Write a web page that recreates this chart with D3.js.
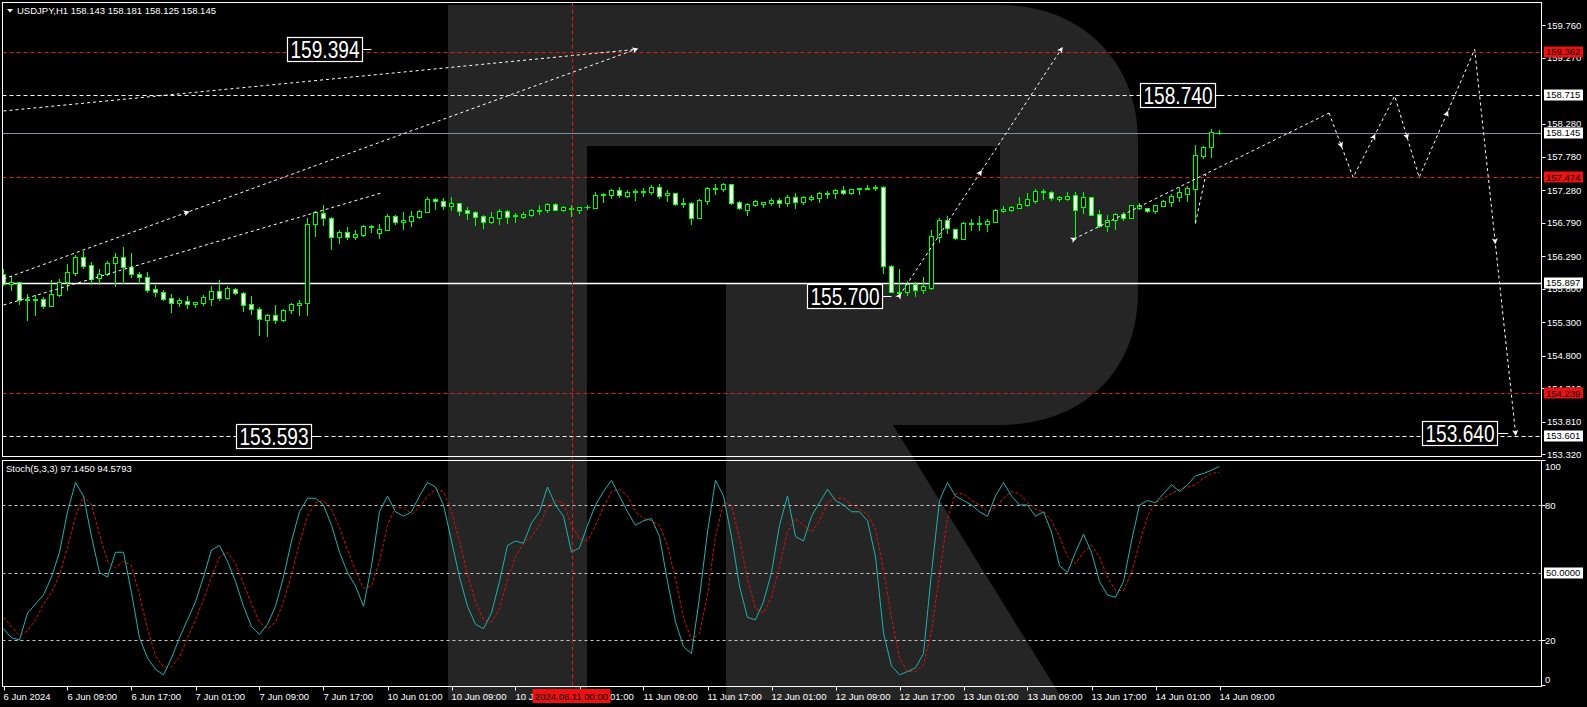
<!DOCTYPE html>
<html><head><meta charset="utf-8">
<script src="https://cdn.jsdelivr.net/npm/d3@7"></script>
<style>html,body{margin:0;padding:0;background:#000;overflow:hidden}svg{display:block}text{font-family:"Liberation Sans",Arial,sans-serif}</style>
</head><body><div id="chart"></div>
<script>
// ---------------- DATA ----------------
const symbol = "USDJPY,H1";
const lastOHLC = ["158.143", "158.181", "158.125", "158.145"];
const stochTitle = "Stoch(5,3,3)";
const stochLast = ["97.1450", "94.5793"];

const opens = [156.020,155.870,155.900,155.630,155.630,155.650,155.550,155.715,155.900,156.045,156.275,156.155,155.960,156.020,156.185,156.275,156.125,156.020,155.975,155.800,155.750,155.660,155.595,155.615,155.570,155.595,155.655,155.770,155.670,155.800,155.740,155.570,155.500,155.340,155.410,155.340,155.480,155.565,155.585,
156.770,156.935,156.860,156.585,156.650,156.585,156.615,156.730,156.645,156.690,156.890,156.810,156.820,156.885,156.960,157.145,157.115,157.050,157.085,156.980,156.950,156.890,156.805,156.870,156.970,156.895,156.880,156.915,156.975,156.990,157.070,156.990,157.000,156.990,157.025,157.020,157.205,
157.205,157.280,157.200,157.250,157.250,157.255,157.330,157.205,157.235,157.080,157.090,156.870,157.125,157.295,157.300,157.370,157.100,156.985,157.065,157.080,157.090,157.135,157.090,157.180,157.110,157.150,157.170,157.220,157.235,157.285,157.245,157.295,157.295,157.310,157.325,156.140,155.745,155.760,
155.875,155.790,155.820,156.585,156.830,156.695,156.555,156.775,156.775,156.780,156.810,156.975,156.990,157.020,157.065,157.125,157.250,157.255,157.155,157.155,157.205,157.035,157.175,156.920,156.750,156.830,156.920,156.870,157.020,157.010,156.975,157.050,157.110,157.185,157.230,157.305,157.800,157.930,158.143];
const highs = [156.095,155.995,155.910,155.725,155.710,155.685,155.935,155.945,156.175,156.310,156.370,156.210,156.100,156.220,156.340,156.430,156.340,156.060,156.060,155.860,155.785,155.725,155.660,155.695,155.600,155.715,155.845,155.935,155.845,155.815,155.755,155.695,155.535,155.430,155.560,155.495,155.595,155.635,156.860,
156.970,157.060,156.885,156.685,156.725,156.685,156.760,156.760,156.775,156.925,156.905,156.955,156.970,156.985,157.180,157.160,157.165,157.180,157.095,157.035,156.970,156.910,156.955,157.000,156.985,156.940,156.955,156.995,157.060,157.085,157.090,157.045,157.055,157.030,157.060,157.255,157.235,
157.295,157.325,157.280,157.295,157.310,157.360,157.375,157.280,157.240,157.160,157.105,157.145,157.330,157.375,157.390,157.375,157.115,157.090,157.140,157.105,157.160,157.170,157.210,157.240,157.190,157.210,157.255,157.270,157.300,157.345,157.305,157.315,157.360,157.360,157.340,156.155,156.100,155.925,
155.910,155.980,156.685,156.865,156.895,156.705,156.805,156.855,156.895,156.855,157.000,157.045,157.050,157.180,157.240,157.300,157.300,157.270,157.200,157.255,157.255,157.255,157.175,156.985,156.905,156.940,156.960,157.055,157.090,157.015,157.065,157.135,157.220,157.330,157.350,157.960,157.945,158.200,158.181];
const lows = [155.860,155.785,155.575,155.335,155.410,155.520,155.545,155.700,155.785,156.010,156.110,155.880,155.875,156.005,155.850,155.895,155.975,155.895,155.760,155.700,155.635,155.460,155.550,155.520,155.535,155.560,155.560,155.635,155.655,155.730,155.475,155.425,155.110,155.095,155.290,155.320,155.445,155.410,155.410,
156.595,156.760,156.400,156.495,156.550,156.550,156.600,156.655,156.565,156.685,156.775,156.700,156.750,156.870,156.950,157.000,157.000,156.985,156.910,156.850,156.760,156.715,156.785,156.775,156.790,156.805,156.865,156.900,156.925,156.955,156.985,156.970,156.895,156.945,157.000,157.020,157.105,
157.170,157.185,157.185,157.135,157.200,157.225,157.170,157.125,157.065,157.030,156.780,156.870,157.080,157.225,157.275,157.080,157.000,156.910,157.050,157.030,157.055,157.030,157.045,157.015,157.080,157.135,157.105,157.170,157.170,157.225,157.225,157.230,157.295,157.285,156.040,155.760,155.695,155.710,
155.700,155.745,155.805,156.510,156.645,156.555,156.555,156.685,156.685,156.675,156.810,156.955,156.975,157.020,157.050,157.095,157.150,157.140,157.115,157.135,156.545,156.945,156.905,156.735,156.675,156.705,156.835,156.870,157.000,156.960,156.940,157.050,157.045,157.125,157.125,156.790,157.770,157.780,158.125];
const closes = [155.870,155.900,155.635,155.645,155.650,155.550,155.720,155.900,156.050,156.275,156.150,155.955,156.020,156.190,156.275,156.125,156.020,155.975,155.790,155.750,155.650,155.595,155.635,155.570,155.600,155.680,155.770,155.670,155.815,155.735,155.565,155.495,155.345,155.410,155.340,155.485,155.575,155.585,156.770,
156.950,156.860,156.585,156.650,156.585,156.625,156.740,156.740,156.700,156.895,156.810,156.830,156.895,156.970,157.145,157.115,157.050,157.090,156.975,156.945,156.885,156.810,156.875,156.970,156.885,156.905,156.925,156.985,156.985,157.070,156.990,157.030,157.010,157.030,157.035,157.210,157.220,
157.280,157.205,157.250,157.265,157.265,157.330,157.200,157.240,157.080,157.095,156.870,157.130,157.315,157.310,157.375,157.095,157.010,157.075,157.120,157.105,157.135,157.090,157.180,157.110,157.180,157.180,157.240,157.235,157.285,157.240,157.300,157.315,157.315,157.330,156.140,155.760,155.750,155.870,
155.780,155.845,156.590,156.830,156.710,156.560,156.785,156.785,156.785,156.820,156.985,157.000,157.030,157.070,157.150,157.270,157.270,157.170,157.180,157.195,156.980,157.175,156.915,156.750,156.835,156.925,156.870,157.055,157.060,156.975,157.055,157.120,157.195,157.255,157.315,157.805,157.930,158.150,158.145];

const stochMain = [25,21,20,32,36,40,48,59,77,90,84,66,50,48,59,59,41,21,12,7,4.5,12,21,29,37,48,60,62,55,46,35,26,22.5,27,35,48,64,77,83,83,80,71,59,50,44,35,53,77,84,77,75,77,84,90,88,80,64,48,35,27,25,32,46,62,64,63,72,77,88,80,75,59,61,71,80,86,91,84,77,71,73,74,66,46,28,17,14,39,68,91,84,66,44,30,29,37,50,71,84,66,64,75,81,87,82,80,77,77,73,57,23,8.5,4.5,6,7.6,14,50,82,90,84,82,80,77,75,84,90,84,80,80,75,77,68,53,50,59,67,59,46,40,39,46,64,80,82,81,85,89,86,89,93,94,95.5,97.145];
const stochSignal = [30,26,22,24,29,36,41,49,61,75,84,80,67,55,52,55,53,40,25,13,8,8,12.5,21,29,38,48,57,59,54,45,36,28,25,28,37,49,63,75,81,82,78,70,60,51,43,44,55,71,79,79,76,79,84,87,86,77,64,49,37,29,28,34,47,57,63,66,71,79,82,81,71,65,64,71,79,86,87,84,77,74,73,71,62,47,30,20,23,40,66,81,80,65,47,34,32,39,53,68,74,71,68,73,81,83,83,80,78,76,69,51,30,12,6,6,9,24,49,74,85,85,82,80,77,79,83,86,85,81,78,77,73,66,57,54,59,62,57,48,42,42,50,63,75,81,83,85,87,88,89,92,94,94.5793];

const priceTicks = [159.760,159.270,158.280,157.780,157.280,156.790,156.290,155.800,155.300,154.800,154.310,153.810,153.320];
const stochTicks = [100, 80, 20, 0];
const stochLevels = [80, 50, 20];
const timeLabels = ["6 Jun 2024","6 Jun 09:00","6 Jun 17:00","7 Jun 01:00","7 Jun 09:00","7 Jun 17:00","10 Jun 01:00","10 Jun 09:00","10 Jun 17:00","11 Jun 01:00","11 Jun 09:00","11 Jun 17:00","12 Jun 01:00","12 Jun 09:00","12 Jun 17:00","13 Jun 01:00","13 Jun 09:00","13 Jun 17:00","14 Jun 01:00","14 Jun 09:00"];
const timeLabelBars = [0,8,16,24,32,40,48,56,64,72,80,88,96,104,112,120,128,136,144,152];
const markerBar = 71; const markerLabel = "2024.06.11 00:00";

const redLevels = [159.362, 157.474, 154.239];
const whiteDashLevels = [158.715, 153.601];
const solidLevels = [155.897];
const bidLevel = 158.145;
const axisBoxes = [["159.362","red"],["158.715","white"],["158.145","white"],["157.474","red"],["155.897","white"],["154.239","red"],["153.601","white"]];

// annotation lines: [bar, price] pairs
const trendLines = [
  [[0,158.47],[79.0,159.394]],
  [[0,155.95],[79.0,159.394]],
  [[0,155.56],[47.1,157.236]],
  [[112,155.700],[132.2,159.394]],
  [[133.8,156.55],[165.7,158.44]],
  [[149,156.79],[150.3,157.52]]
];
const forecast = [[165.7,158.44],[168.7,157.474],[173.9,158.695],[176.96,157.474],[183.9,159.394],[189.0,153.640]];
const arrowsOnLines = [[1,0.29],[1,1],[3,0],[3,0.5],[3,1],[4,0]];
const arrowsOnForecast = [[0,0.5],[1,0.5],[2,0.5],[3,0.5],[4,0.5],[4,1]];
// big value labels: [text, right-edge bar, connector-end bar, price]
const bigLabels = [["159.394",44.8,46.0,159.394],["158.740",151.4,152.4,158.715],["155.700",109.8,111.0,155.700],["153.593",38.4,39.3,153.593],["153.640",186.7,188.1,153.640]];

// ---------------- CHART ----------------
const W = 1587, H = 707;
const L = 2.5, R = 1541.5, T = 2.5, MB = 456.5, ST = 460.5, SB = 686.5;
const x = d3.scaleLinear().domain([0, 152]).range([3.5, 1219.5]);
const y = d3.scaleLinear().domain([159.76, 153.32]).range([25, 454.33]);
const ys = d3.scaleLinear().domain([0, 100]).range([685, 460]);
const px = v => Math.round(v) + 0.5;

const svg = d3.select("#chart").append("svg").attr("width", W).attr("height", H);
svg.append("rect").attr("width", W).attr("height", H).attr("fill", "#000");

// watermark logo
svg.append("path").attr("fill", "#252525")
  .attr("d", "M448,5 L1000,5 C1082,5 1138,62 1138,140 L1138,292 C1138,372 1082,425 1000,425 L893,425 L1063,700 L726,700 L726,284 L1000,284 L1000,146 L587,146 L587,700 L448,700 Z");

const defs = svg.append("defs");
defs.append("clipPath").attr("id", "cm").append("rect").attr("x", L).attr("y", T).attr("width", R - L).attr("height", MB - T);
defs.append("clipPath").attr("id", "cs").append("rect").attr("x", L).attr("y", ST).attr("width", R - L).attr("height", SB - ST);

const gm = svg.append("g").attr("clip-path", "url(#cm)");
const gs = svg.append("g").attr("clip-path", "url(#cs)");

// horizontal levels
gm.selectAll(".red").data(redLevels).join("line")
  .attr("x1", L).attr("x2", R).attr("y1", d => px(y(d))).attr("y2", d => px(y(d)))
  .attr("stroke", "#d81e1e").attr("stroke-dasharray", "4,3");
gm.selectAll(".wd").data(whiteDashLevels).join("line")
  .attr("x1", L).attr("x2", R).attr("y1", d => px(y(d))).attr("y2", d => px(y(d)))
  .attr("stroke", "#fff").attr("stroke-dasharray", "4,3");
gm.selectAll(".sl").data(solidLevels).join("line")
  .attr("x1", L).attr("x2", R).attr("y1", d => px(y(d))).attr("y2", d => px(y(d)))
  .attr("stroke", "#fff").attr("stroke-width", 1.3);
gm.append("line").attr("x1", L).attr("x2", R).attr("y1", px(y(bidLevel))).attr("y2", px(y(bidLevel)))
  .attr("stroke", "#8090a0");

// vertical marker
svg.append("line").attr("x1", px(x(markerBar))).attr("x2", px(x(markerBar))).attr("y1", T).attr("y2", SB)
  .attr("stroke", "#d81e1e").attr("stroke-dasharray", "4,3");

// candles
const candles = opens.map((o, i) => ({i, o, h: highs[i], l: lows[i], c: closes[i]}));
const cg = gm.append("g");
cg.selectAll(".wick").data(candles).join("line")
  .attr("x1", d => x(d.i)).attr("x2", d => x(d.i))
  .attr("y1", d => Math.round(y(d.h))).attr("y2", d => Math.round(y(d.l)) + 1)
  .attr("stroke", "#00ff00");
candles.forEach(d => {
  const t = Math.round(y(Math.max(d.o, d.c))), b = Math.round(y(Math.min(d.o, d.c)));
  if (b - t < 1) {
    cg.append("line").attr("x1", x(d.i) - 3).attr("x2", x(d.i) + 3).attr("y1", t + 0.5).attr("y2", t + 0.5).attr("stroke", "#00ff00");
  } else {
    cg.append("rect").attr("x", x(d.i) - 2).attr("y", t + 0.5).attr("width", 4).attr("height", b - t)
      .attr("fill", d.c >= d.o ? "#000" : "#fff").attr("stroke", "#00ff00");
  }
});

// trend lines
const lineGen = d3.line().x(d => x(d[0])).y(d => y(d[1]));
gm.selectAll(".tl").data(trendLines).join("path").attr("d", lineGen)
  .attr("fill", "none").attr("stroke", "#fff").attr("stroke-dasharray", "3,3");
gm.append("path").attr("d", lineGen(forecast)).attr("fill", "none").attr("stroke", "#fff").attr("stroke-dasharray", "3,3");

function arrowAt(p0, p1, t) {
  const X0 = x(p0[0]), Y0 = y(p0[1]), X1 = x(p1[0]), Y1 = y(p1[1]);
  const ax = X0 + (X1 - X0) * t, ay = Y0 + (Y1 - Y0) * t;
  const ang = Math.atan2(Y1 - Y0, X1 - X0) * 180 / Math.PI;
  gm.append("path").attr("d", "M3,0 L-3,-3 L-1.5,0 L-3,3 Z").attr("fill", "#fff")
    .attr("transform", `translate(${ax},${ay}) rotate(${ang})`);
}
arrowsOnLines.forEach(([li, t]) => arrowAt(trendLines[li][0], trendLines[li][1], t));
arrowsOnForecast.forEach(([s, t]) => arrowAt(forecast[s], forecast[s + 1], t));

// big labels
bigLabels.forEach(([txt, rb, cb, p]) => {
  const xr = Math.round(x(rb)) + 0.5, yc = y(p);
  gm.append("line").attr("x1", xr).attr("x2", x(cb)).attr("y1", px(yc)).attr("y2", px(yc)).attr("stroke", "#fff");
  gm.append("rect").attr("x", xr - 75).attr("y", Math.round(yc) - 11.5).attr("width", 75).attr("height", 24)
    .attr("fill", "#000").attr("stroke", "#fff").attr("stroke-width", 1.2);
  gm.append("text").attr("x", xr - 72).attr("y", yc + 9).attr("fill", "#fff").attr("font-size", 24)
    .attr("textLength", 69).attr("lengthAdjust", "spacingAndGlyphs").text(txt);
});

// stochastic
gs.selectAll(".lv").data(stochLevels).join("line")
  .attr("x1", L).attr("x2", R).attr("y1", d => px(ys(d))).attr("y2", d => px(ys(d)))
  .attr("stroke", "#c8c8c8").attr("stroke-dasharray", "3,3");
const sl = d3.line().x((d, i) => x(i)).y(d => ys(d));
gs.append("path").attr("d", sl(stochSignal)).attr("fill", "none").attr("stroke", "#e01010").attr("stroke-dasharray", "3,2");
gs.append("path").attr("d", sl(stochMain)).attr("fill", "none").attr("stroke", "#20b2aa").attr("stroke-width", 1);

// frames
svg.append("rect").attr("x", L).attr("y", T).attr("width", R - L).attr("height", MB - T).attr("fill", "none").attr("stroke", "#fff");
svg.append("rect").attr("x", L).attr("y", ST).attr("width", R - L).attr("height", SB - ST).attr("fill", "none").attr("stroke", "#fff");

// header texts
svg.append("path").attr("d", "M7,9 L13,9 L10,12.5 Z").attr("fill", "#fff");
svg.append("text").attr("x", 17).attr("y", 14).attr("fill", "#fff").attr("font-size", 9.5)
  .text(symbol + "  " + lastOHLC.join(" "));
svg.append("text").attr("x", 6).attr("y", 472).attr("fill", "#fff").attr("font-size", 9.5)
  .text(stochTitle + " " + stochLast.join(" "));

// price axis
const ax = svg.append("g");
ax.selectAll(".pt").data(priceTicks).join("line")
  .attr("x1", R).attr("x2", R + 4).attr("y1", d => px(y(d))).attr("y2", d => px(y(d))).attr("stroke", "#fff");
ax.selectAll(".pl").data(priceTicks).join("text")
  .attr("x", 1547).attr("y", d => y(d) + 3.5).attr("fill", "#fff").attr("font-size", 9.5).text(d => d.toFixed(3));
axisBoxes.forEach(([v, c]) => {
  const yy = y(+v);
  ax.append("rect").attr("x", 1544).attr("y", Math.round(yy) - 5.5).attr("width", 39).attr("height", 11)
    .attr("fill", c === "red" ? "#ee1111" : "#fff");
  ax.append("text").attr("x", 1546).attr("y", yy + 3.5).attr("fill", "#000").attr("font-size", 9.5).text(v);
});
ax.selectAll(".st").data(stochTicks).join("line")
  .attr("x1", R).attr("x2", R + 4).attr("y1", d => px(ys(d))).attr("y2", d => px(ys(d))).attr("stroke", "#fff");
ax.selectAll(".sl").data(stochTicks).join("text")
  .attr("x", 1545).attr("y", d => d === 100 ? 470 : d === 0 ? 683 : ys(d) + 3.5)
  .attr("fill", "#fff").attr("font-size", 9.5).text(d => d);
ax.append("rect").attr("x", 1544).attr("y", Math.round(ys(50)) - 5.5).attr("width", 39).attr("height", 11).attr("fill", "#fff");
ax.append("text").attr("x", 1546).attr("y", ys(50) + 3.5).attr("fill", "#000").attr("font-size", 9.5).text("50.0000");

// time axis
const tx = svg.append("g");
tx.selectAll(".tt").data(timeLabelBars).join("line")
  .attr("x1", d => px(x(d))).attr("x2", d => px(x(d))).attr("y1", SB).attr("y2", SB + 4).attr("stroke", "#fff");
tx.selectAll(".tl").data(timeLabels).join("text")
  .attr("x", (d, i) => x(timeLabelBars[i])).attr("y", 700).attr("fill", "#fff").attr("font-size", 9.5).text(d => d);
tx.append("rect").attr("x", x(markerBar) - 39).attr("y", 689).attr("width", 78).attr("height", 14).attr("fill", "#ee1111");
tx.append("text").attr("x", x(markerBar)).attr("y", 700).attr("text-anchor", "middle").attr("fill", "#000")
  .attr("font-size", 9.5).text(markerLabel);
</script></body></html>
